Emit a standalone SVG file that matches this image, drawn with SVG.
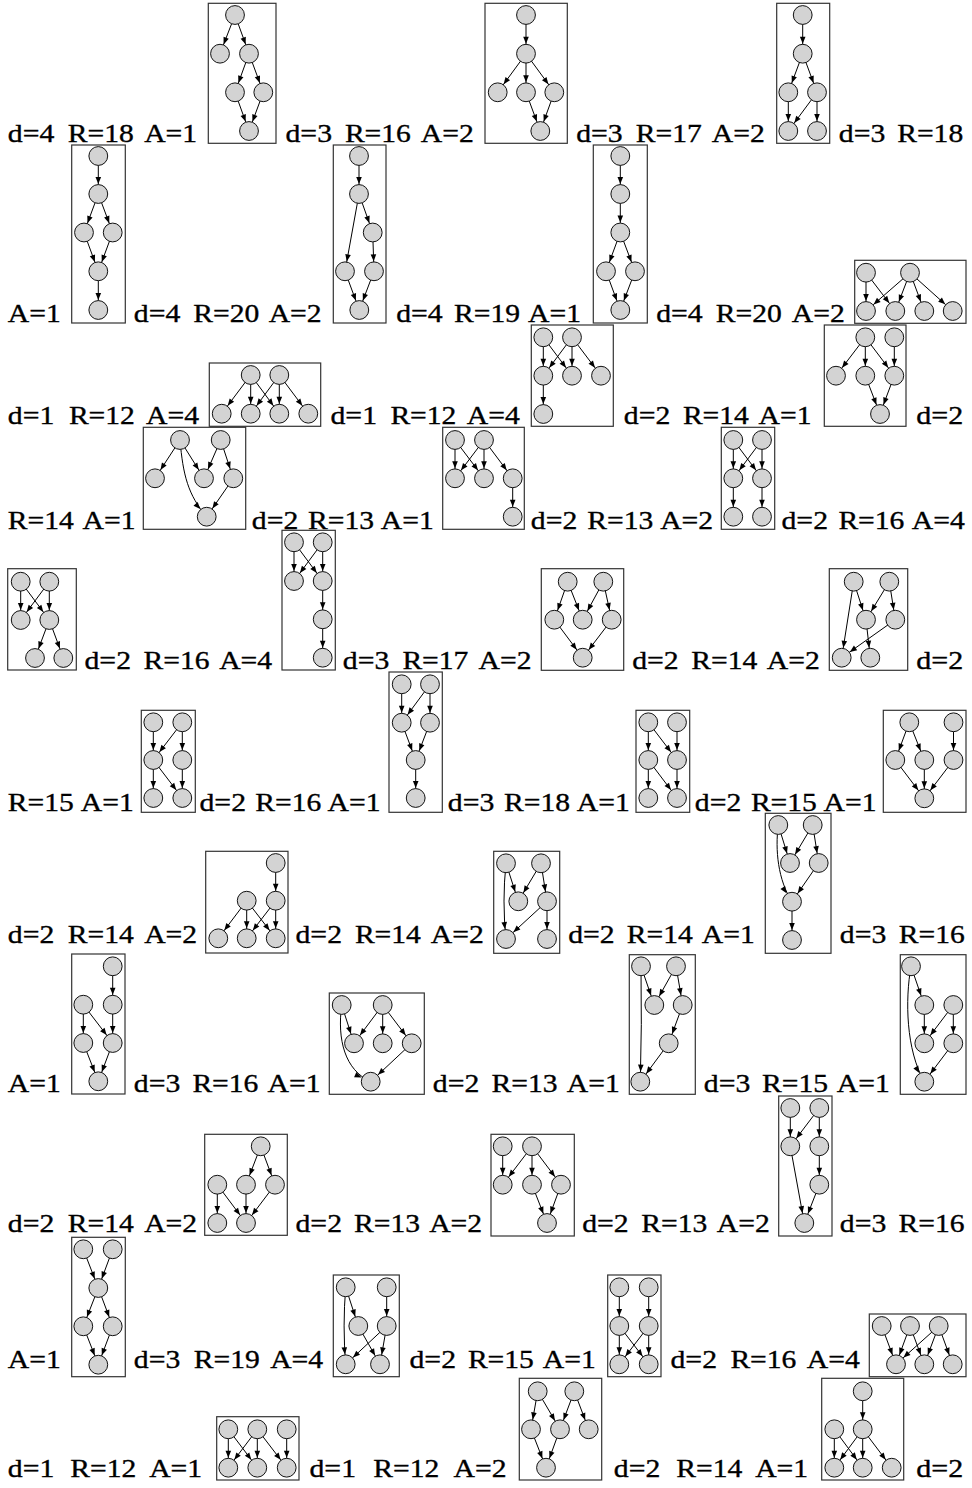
<svg xmlns="http://www.w3.org/2000/svg" width="972" height="1488" viewBox="0 0 972 1488">
<defs>
<marker id="ah" markerUnits="userSpaceOnUse" viewBox="-18 -4 18 8" markerWidth="18" markerHeight="8" refX="0" refY="0" orient="auto"><path d="M-10,0 L-17,-2.8 L-17,2.8 Z" fill="#000"/></marker>
</defs>
<style>
.bx{fill:#fff;stroke:#333;stroke-width:1.2}
circle{fill:#d3d3d3;stroke:#111;stroke-width:1}
.ed line,.ed path{stroke:#000;stroke-width:1;fill:none;marker-end:url(#ah)}
</style>
<rect width="972" height="1488" fill="#fff"/>
<g id="labels" font-family="'Liberation Serif', 'Times New Roman', 'DejaVu Serif', serif" font-size="26" fill="#000" stroke="#000" stroke-width="0.35">
<text x="7.8" y="142" textLength="46.5" lengthAdjust="spacingAndGlyphs">d=4</text><text x="67.8" y="142" textLength="66" lengthAdjust="spacingAndGlyphs">R=18</text><text x="144.2" y="142" textLength="53" lengthAdjust="spacingAndGlyphs">A=1</text>
<text x="285.5" y="142" textLength="46.5" lengthAdjust="spacingAndGlyphs">d=3</text><text x="344.9" y="142" textLength="66" lengthAdjust="spacingAndGlyphs">R=16</text><text x="420.8" y="142" textLength="53" lengthAdjust="spacingAndGlyphs">A=2</text>
<text x="576.2" y="142" textLength="46.5" lengthAdjust="spacingAndGlyphs">d=3</text><text x="635.75" y="142" textLength="66" lengthAdjust="spacingAndGlyphs">R=17</text><text x="711.8" y="142" textLength="53" lengthAdjust="spacingAndGlyphs">A=2</text>
<text x="838.8" y="142" textLength="46.5" lengthAdjust="spacingAndGlyphs">d=3</text><text x="897.2" y="142" textLength="66" lengthAdjust="spacingAndGlyphs">R=18</text>
<text x="7.8" y="321.5" textLength="53" lengthAdjust="spacingAndGlyphs">A=1</text>
<text x="133.8" y="321.5" textLength="46.5" lengthAdjust="spacingAndGlyphs">d=4</text><text x="193.25" y="321.5" textLength="66" lengthAdjust="spacingAndGlyphs">R=20</text><text x="268.7" y="321.5" textLength="53" lengthAdjust="spacingAndGlyphs">A=2</text>
<text x="396.2" y="321.5" textLength="46.5" lengthAdjust="spacingAndGlyphs">d=4</text><text x="454.1" y="321.5" textLength="66" lengthAdjust="spacingAndGlyphs">R=19</text><text x="528" y="321.5" textLength="53" lengthAdjust="spacingAndGlyphs">A=1</text>
<text x="656.2" y="321.5" textLength="46.5" lengthAdjust="spacingAndGlyphs">d=4</text><text x="715.75" y="321.5" textLength="66" lengthAdjust="spacingAndGlyphs">R=20</text><text x="791.8" y="321.5" textLength="53" lengthAdjust="spacingAndGlyphs">A=2</text>
<text x="7.8" y="424" textLength="46.5" lengthAdjust="spacingAndGlyphs">d=1</text><text x="68.9" y="424" textLength="66" lengthAdjust="spacingAndGlyphs">R=12</text><text x="146" y="424" textLength="53" lengthAdjust="spacingAndGlyphs">A=4</text>
<text x="330.5" y="424" textLength="46.5" lengthAdjust="spacingAndGlyphs">d=1</text><text x="390.4" y="424" textLength="66" lengthAdjust="spacingAndGlyphs">R=12</text><text x="466.8" y="424" textLength="53" lengthAdjust="spacingAndGlyphs">A=4</text>
<text x="623.8" y="424" textLength="46.5" lengthAdjust="spacingAndGlyphs">d=2</text><text x="682.9" y="424" textLength="66" lengthAdjust="spacingAndGlyphs">R=14</text><text x="758.5" y="424" textLength="53" lengthAdjust="spacingAndGlyphs">A=1</text>
<text x="916.2" y="424" textLength="47" lengthAdjust="spacingAndGlyphs">d=2</text>
<text x="7.8" y="528.5" textLength="66" lengthAdjust="spacingAndGlyphs">R=14</text><text x="82.5" y="528.5" textLength="53" lengthAdjust="spacingAndGlyphs">A=1</text>
<text x="251.8" y="528.5" textLength="46.5" lengthAdjust="spacingAndGlyphs">d=2</text><text x="308.05" y="528.5" textLength="66" lengthAdjust="spacingAndGlyphs">R=13</text><text x="380.8" y="528.5" textLength="53" lengthAdjust="spacingAndGlyphs">A=1</text>
<text x="530.8" y="528.5" textLength="46.5" lengthAdjust="spacingAndGlyphs">d=2</text><text x="587.25" y="528.5" textLength="66" lengthAdjust="spacingAndGlyphs">R=13</text><text x="660.2" y="528.5" textLength="53" lengthAdjust="spacingAndGlyphs">A=2</text>
<text x="781.5" y="528.5" textLength="46.5" lengthAdjust="spacingAndGlyphs">d=2</text><text x="838.4" y="528.5" textLength="66" lengthAdjust="spacingAndGlyphs">R=16</text><text x="911.8" y="528.5" textLength="53" lengthAdjust="spacingAndGlyphs">A=4</text>
<text x="84.5" y="669.3" textLength="46.5" lengthAdjust="spacingAndGlyphs">d=2</text><text x="143.6" y="669.3" textLength="66" lengthAdjust="spacingAndGlyphs">R=16</text><text x="219.2" y="669.3" textLength="53" lengthAdjust="spacingAndGlyphs">A=4</text>
<text x="342.8" y="669.3" textLength="46.5" lengthAdjust="spacingAndGlyphs">d=3</text><text x="402.4" y="669.3" textLength="66" lengthAdjust="spacingAndGlyphs">R=17</text><text x="478.5" y="669.3" textLength="53" lengthAdjust="spacingAndGlyphs">A=2</text>
<text x="632.2" y="669.3" textLength="46.5" lengthAdjust="spacingAndGlyphs">d=2</text><text x="691.25" y="669.3" textLength="66" lengthAdjust="spacingAndGlyphs">R=14</text><text x="766.8" y="669.3" textLength="53" lengthAdjust="spacingAndGlyphs">A=2</text>
<text x="916.2" y="669.3" textLength="47" lengthAdjust="spacingAndGlyphs">d=2</text>
<text x="7.8" y="810.5" textLength="66" lengthAdjust="spacingAndGlyphs">R=15</text><text x="80.8" y="810.5" textLength="53" lengthAdjust="spacingAndGlyphs">A=1</text>
<text x="199.5" y="810.5" textLength="46.5" lengthAdjust="spacingAndGlyphs">d=2</text><text x="255.25" y="810.5" textLength="66" lengthAdjust="spacingAndGlyphs">R=16</text><text x="327.5" y="810.5" textLength="53" lengthAdjust="spacingAndGlyphs">A=1</text>
<text x="447.8" y="810.5" textLength="46.5" lengthAdjust="spacingAndGlyphs">d=3</text><text x="504.05" y="810.5" textLength="66" lengthAdjust="spacingAndGlyphs">R=18</text><text x="576.8" y="810.5" textLength="53" lengthAdjust="spacingAndGlyphs">A=1</text>
<text x="694.8" y="810.5" textLength="46.5" lengthAdjust="spacingAndGlyphs">d=2</text><text x="750.9" y="810.5" textLength="66" lengthAdjust="spacingAndGlyphs">R=15</text><text x="823.5" y="810.5" textLength="53" lengthAdjust="spacingAndGlyphs">A=1</text>
<text x="7.8" y="943.3" textLength="46.5" lengthAdjust="spacingAndGlyphs">d=2</text><text x="67.8" y="943.3" textLength="66" lengthAdjust="spacingAndGlyphs">R=14</text><text x="144.2" y="943.3" textLength="53" lengthAdjust="spacingAndGlyphs">A=2</text>
<text x="295.5" y="943.3" textLength="46.5" lengthAdjust="spacingAndGlyphs">d=2</text><text x="354.9" y="943.3" textLength="66" lengthAdjust="spacingAndGlyphs">R=14</text><text x="430.8" y="943.3" textLength="53" lengthAdjust="spacingAndGlyphs">A=2</text>
<text x="568.2" y="943.3" textLength="46.5" lengthAdjust="spacingAndGlyphs">d=2</text><text x="626.75" y="943.3" textLength="66" lengthAdjust="spacingAndGlyphs">R=14</text><text x="701.8" y="943.3" textLength="53" lengthAdjust="spacingAndGlyphs">A=1</text>
<text x="839.8" y="943.3" textLength="46.5" lengthAdjust="spacingAndGlyphs">d=3</text><text x="898.8" y="943.3" textLength="66" lengthAdjust="spacingAndGlyphs">R=16</text>
<text x="7.8" y="1092" textLength="53" lengthAdjust="spacingAndGlyphs">A=1</text>
<text x="133.8" y="1092" textLength="46.5" lengthAdjust="spacingAndGlyphs">d=3</text><text x="192.4" y="1092" textLength="66" lengthAdjust="spacingAndGlyphs">R=16</text><text x="267.5" y="1092" textLength="53" lengthAdjust="spacingAndGlyphs">A=1</text>
<text x="432.8" y="1092" textLength="46.5" lengthAdjust="spacingAndGlyphs">d=2</text><text x="491.55" y="1092" textLength="66" lengthAdjust="spacingAndGlyphs">R=13</text><text x="566.8" y="1092" textLength="53" lengthAdjust="spacingAndGlyphs">A=1</text>
<text x="703.8" y="1092" textLength="46.5" lengthAdjust="spacingAndGlyphs">d=3</text><text x="762.05" y="1092" textLength="66" lengthAdjust="spacingAndGlyphs">R=15</text><text x="836.8" y="1092" textLength="53" lengthAdjust="spacingAndGlyphs">A=1</text>
<text x="7.8" y="1232" textLength="46.5" lengthAdjust="spacingAndGlyphs">d=2</text><text x="67.8" y="1232" textLength="66" lengthAdjust="spacingAndGlyphs">R=14</text><text x="144.2" y="1232" textLength="53" lengthAdjust="spacingAndGlyphs">A=2</text>
<text x="295.5" y="1232" textLength="46.5" lengthAdjust="spacingAndGlyphs">d=2</text><text x="354.1" y="1232" textLength="66" lengthAdjust="spacingAndGlyphs">R=13</text><text x="429.2" y="1232" textLength="53" lengthAdjust="spacingAndGlyphs">A=2</text>
<text x="582.2" y="1232" textLength="46.5" lengthAdjust="spacingAndGlyphs">d=2</text><text x="641.25" y="1232" textLength="66" lengthAdjust="spacingAndGlyphs">R=13</text><text x="716.8" y="1232" textLength="53" lengthAdjust="spacingAndGlyphs">A=2</text>
<text x="839.8" y="1232" textLength="46.5" lengthAdjust="spacingAndGlyphs">d=3</text><text x="898.5" y="1232" textLength="66" lengthAdjust="spacingAndGlyphs">R=16</text>
<text x="7.8" y="1367.7" textLength="53" lengthAdjust="spacingAndGlyphs">A=1</text>
<text x="133.8" y="1367.7" textLength="46.5" lengthAdjust="spacingAndGlyphs">d=3</text><text x="193.75" y="1367.7" textLength="66" lengthAdjust="spacingAndGlyphs">R=19</text><text x="270.2" y="1367.7" textLength="53" lengthAdjust="spacingAndGlyphs">A=4</text>
<text x="409.5" y="1367.7" textLength="46.5" lengthAdjust="spacingAndGlyphs">d=2</text><text x="467.9" y="1367.7" textLength="66" lengthAdjust="spacingAndGlyphs">R=15</text><text x="542.8" y="1367.7" textLength="53" lengthAdjust="spacingAndGlyphs">A=1</text>
<text x="670.5" y="1367.7" textLength="46.5" lengthAdjust="spacingAndGlyphs">d=2</text><text x="730.4" y="1367.7" textLength="66" lengthAdjust="spacingAndGlyphs">R=16</text><text x="806.8" y="1367.7" textLength="53" lengthAdjust="spacingAndGlyphs">A=4</text>
<text x="7.8" y="1477.3" textLength="46.5" lengthAdjust="spacingAndGlyphs">d=1</text><text x="70.25" y="1477.3" textLength="66" lengthAdjust="spacingAndGlyphs">R=12</text><text x="149.2" y="1477.3" textLength="53" lengthAdjust="spacingAndGlyphs">A=1</text>
<text x="309.5" y="1477.3" textLength="46.5" lengthAdjust="spacingAndGlyphs">d=1</text><text x="373.25" y="1477.3" textLength="66" lengthAdjust="spacingAndGlyphs">R=12</text><text x="453.5" y="1477.3" textLength="53" lengthAdjust="spacingAndGlyphs">A=2</text>
<text x="613.8" y="1477.3" textLength="46.5" lengthAdjust="spacingAndGlyphs">d=2</text><text x="676.25" y="1477.3" textLength="66" lengthAdjust="spacingAndGlyphs">R=14</text><text x="755.2" y="1477.3" textLength="53" lengthAdjust="spacingAndGlyphs">A=1</text>
<text x="916.2" y="1477.3" textLength="47" lengthAdjust="spacingAndGlyphs">d=2</text>
</g>

<g id="b1"><rect class="bx" x="208.3" y="3.3" width="67.7" height="140"/>
<g class="ed" id="b1-edges"><line x1="235" y1="15" x2="220" y2="53.7"/><line x1="235" y1="15" x2="249" y2="53.7"/><line x1="249" y1="53.7" x2="235" y2="92.3"/><line x1="249" y1="53.7" x2="263.3" y2="92.3"/><line x1="235" y1="92.3" x2="249" y2="131"/><line x1="263.3" y1="92.3" x2="249" y2="131"/></g>
<g id="b1-n1"><circle cx="235" cy="15" r="9.4"/></g><g id="b1-n2"><circle cx="220" cy="53.7" r="9.4"/></g><g id="b1-n3"><circle cx="249" cy="53.7" r="9.4"/></g><g id="b1-n4"><circle cx="235" cy="92.3" r="9.4"/></g><g id="b1-n5"><circle cx="263.3" cy="92.3" r="9.4"/></g><g id="b1-n6"><circle cx="249" cy="131" r="9.4"/></g></g>

<g id="b2"><rect class="bx" x="485" y="3.3" width="82.3" height="140"/>
<g class="ed" id="b2-edges"><line x1="526" y1="15" x2="526" y2="53.7"/><line x1="526" y1="53.7" x2="497.7" y2="92.3"/><line x1="526" y1="53.7" x2="526" y2="92.3"/><line x1="526" y1="53.7" x2="554.3" y2="92.3"/><line x1="526" y1="92.3" x2="540.3" y2="131"/><line x1="554.3" y1="92.3" x2="540.3" y2="131"/></g>
<g id="b2-n1"><circle cx="526" cy="15" r="9.4"/></g><g id="b2-n2"><circle cx="526" cy="53.7" r="9.4"/></g><g id="b2-n3"><circle cx="497.7" cy="92.3" r="9.4"/></g><g id="b2-n4"><circle cx="526" cy="92.3" r="9.4"/></g><g id="b2-n5"><circle cx="554.3" cy="92.3" r="9.4"/></g><g id="b2-n6"><circle cx="540.3" cy="131" r="9.4"/></g></g>

<g id="b3"><rect class="bx" x="776.7" y="3.3" width="53" height="140"/>
<g class="ed" id="b3-edges"><line x1="802.7" y1="15" x2="802.7" y2="53.7"/><line x1="802.7" y1="53.7" x2="788.3" y2="92.3"/><line x1="802.7" y1="53.7" x2="817" y2="92.3"/><line x1="788.3" y1="92.3" x2="788.3" y2="131"/><line x1="817" y1="92.3" x2="788.3" y2="131"/><line x1="817" y1="92.3" x2="817" y2="131"/></g>
<g id="b3-n1"><circle cx="802.7" cy="15" r="9.4"/></g><g id="b3-n2"><circle cx="802.7" cy="53.7" r="9.4"/></g><g id="b3-n3"><circle cx="788.3" cy="92.3" r="9.4"/></g><g id="b3-n4"><circle cx="817" cy="92.3" r="9.4"/></g><g id="b3-n5"><circle cx="788.3" cy="131" r="9.4"/></g><g id="b3-n6"><circle cx="817" cy="131" r="9.4"/></g></g>

<g id="b4"><rect class="bx" x="71.7" y="145" width="53.6" height="178"/>
<g class="ed" id="b4-edges"><line x1="98.3" y1="156" x2="98.3" y2="194"/><line x1="98.3" y1="194" x2="84" y2="232.5"/><line x1="98.3" y1="194" x2="112.7" y2="232.5"/><line x1="84" y1="232.5" x2="98.3" y2="271.3"/><line x1="112.7" y1="232.5" x2="98.3" y2="271.3"/><line x1="98.3" y1="271.3" x2="98.3" y2="310"/></g>
<g id="b4-n1"><circle cx="98.3" cy="156" r="9.4"/></g><g id="b4-n2"><circle cx="98.3" cy="194" r="9.4"/></g><g id="b4-n3"><circle cx="84" cy="232.5" r="9.4"/></g><g id="b4-n4"><circle cx="112.7" cy="232.5" r="9.4"/></g><g id="b4-n5"><circle cx="98.3" cy="271.3" r="9.4"/></g><g id="b4-n6"><circle cx="98.3" cy="310" r="9.4"/></g></g>

<g id="b5"><rect class="bx" x="333.3" y="145" width="52.7" height="178"/>
<g class="ed" id="b5-edges"><line x1="359" y1="156" x2="359" y2="194"/><line x1="359" y1="194" x2="372.7" y2="232.5"/><line x1="359" y1="194" x2="345" y2="271.3"/><line x1="372.7" y1="232.5" x2="374" y2="271.3"/><line x1="345" y1="271.3" x2="359.3" y2="310"/><line x1="374" y1="271.3" x2="359.3" y2="310"/></g>
<g id="b5-n1"><circle cx="359" cy="156" r="9.4"/></g><g id="b5-n2"><circle cx="359" cy="194" r="9.4"/></g><g id="b5-n3"><circle cx="372.7" cy="232.5" r="9.4"/></g><g id="b5-n4"><circle cx="345" cy="271.3" r="9.4"/></g><g id="b5-n5"><circle cx="374" cy="271.3" r="9.4"/></g><g id="b5-n6"><circle cx="359.3" cy="310" r="9.4"/></g></g>

<g id="b6"><rect class="bx" x="593.3" y="145" width="54" height="178"/>
<g class="ed" id="b6-edges"><line x1="620.3" y1="156" x2="620.3" y2="194"/><line x1="620.3" y1="194" x2="620.3" y2="232.5"/><line x1="620.3" y1="232.5" x2="606" y2="271.3"/><line x1="620.3" y1="232.5" x2="635" y2="271.3"/><line x1="606" y1="271.3" x2="620.3" y2="310"/><line x1="635" y1="271.3" x2="620.3" y2="310"/></g>
<g id="b6-n1"><circle cx="620.3" cy="156" r="9.4"/></g><g id="b6-n2"><circle cx="620.3" cy="194" r="9.4"/></g><g id="b6-n3"><circle cx="620.3" cy="232.5" r="9.4"/></g><g id="b6-n4"><circle cx="606" cy="271.3" r="9.4"/></g><g id="b6-n5"><circle cx="635" cy="271.3" r="9.4"/></g><g id="b6-n6"><circle cx="620.3" cy="310" r="9.4"/></g></g>

<g id="b7"><rect class="bx" x="854.7" y="260.3" width="111.3" height="63"/>
<g class="ed" id="b7-edges"><line x1="866" y1="272.7" x2="866" y2="311"/><line x1="866" y1="272.7" x2="895.3" y2="311"/><line x1="910" y1="272.7" x2="866" y2="311"/><line x1="910" y1="272.7" x2="895.3" y2="311"/><line x1="910" y1="272.7" x2="924.3" y2="311"/><line x1="910" y1="272.7" x2="952.7" y2="311"/></g>
<g id="b7-n1"><circle cx="866" cy="272.7" r="9.4"/></g><g id="b7-n2"><circle cx="910" cy="272.7" r="9.4"/></g><g id="b7-n3"><circle cx="866" cy="311" r="9.4"/></g><g id="b7-n4"><circle cx="895.3" cy="311" r="9.4"/></g><g id="b7-n5"><circle cx="924.3" cy="311" r="9.4"/></g><g id="b7-n6"><circle cx="952.7" cy="311" r="9.4"/></g></g>

<g id="b8"><rect class="bx" x="209.3" y="363" width="111.4" height="63.3"/>
<g class="ed" id="b8-edges"><line x1="250.7" y1="375" x2="221.7" y2="413.7"/><line x1="250.7" y1="375" x2="250.7" y2="413.7"/><line x1="250.7" y1="375" x2="279.3" y2="413.7"/><line x1="279.3" y1="375" x2="250.7" y2="413.7"/><line x1="279.3" y1="375" x2="279.3" y2="413.7"/><line x1="279.3" y1="375" x2="308.3" y2="413.7"/></g>
<g id="b8-n1"><circle cx="250.7" cy="375" r="9.4"/></g><g id="b8-n2"><circle cx="279.3" cy="375" r="9.4"/></g><g id="b8-n3"><circle cx="221.7" cy="413.7" r="9.4"/></g><g id="b8-n4"><circle cx="250.7" cy="413.7" r="9.4"/></g><g id="b8-n5"><circle cx="279.3" cy="413.7" r="9.4"/></g><g id="b8-n6"><circle cx="308.3" cy="413.7" r="9.4"/></g></g>

<g id="b9"><rect class="bx" x="531.3" y="325" width="82" height="101.3"/>
<g class="ed" id="b9-edges"><line x1="543.3" y1="337.3" x2="543.3" y2="375.7"/><line x1="543.3" y1="337.3" x2="572" y2="375.7"/><line x1="572" y1="337.3" x2="543.3" y2="375.7"/><line x1="572" y1="337.3" x2="572" y2="375.7"/><line x1="572" y1="337.3" x2="601" y2="375.7"/><line x1="543.3" y1="375.7" x2="543.3" y2="414"/></g>
<g id="b9-n1"><circle cx="543.3" cy="337.3" r="9.4"/></g><g id="b9-n2"><circle cx="572" cy="337.3" r="9.4"/></g><g id="b9-n3"><circle cx="543.3" cy="375.7" r="9.4"/></g><g id="b9-n4"><circle cx="572" cy="375.7" r="9.4"/></g><g id="b9-n5"><circle cx="601" cy="375.7" r="9.4"/></g><g id="b9-n6"><circle cx="543.3" cy="414" r="9.4"/></g></g>

<g id="b10"><rect class="bx" x="824.3" y="325" width="81.7" height="101.3"/>
<g class="ed" id="b10-edges"><line x1="865.3" y1="337.3" x2="836" y2="375.7"/><line x1="865.3" y1="337.3" x2="865.3" y2="375.7"/><line x1="865.3" y1="337.3" x2="894.3" y2="375.7"/><line x1="894.3" y1="337.3" x2="894.3" y2="375.7"/><line x1="865.3" y1="375.7" x2="880" y2="414"/><line x1="894.3" y1="375.7" x2="880" y2="414"/></g>
<g id="b10-n1"><circle cx="865.3" cy="337.3" r="9.4"/></g><g id="b10-n2"><circle cx="894.3" cy="337.3" r="9.4"/></g><g id="b10-n3"><circle cx="836" cy="375.7" r="9.4"/></g><g id="b10-n4"><circle cx="865.3" cy="375.7" r="9.4"/></g><g id="b10-n5"><circle cx="894.3" cy="375.7" r="9.4"/></g><g id="b10-n6"><circle cx="880" cy="414" r="9.4"/></g></g>

<g id="b11"><rect class="bx" x="143.3" y="427.3" width="102.4" height="102"/>
<g class="ed" id="b11-edges"><line x1="180" y1="440" x2="155" y2="478.3"/><line x1="180" y1="440" x2="204" y2="478.3"/><line x1="220.7" y1="440" x2="204" y2="478.3"/><line x1="220.7" y1="440" x2="233.3" y2="478.3"/><line x1="233.3" y1="478.3" x2="206.7" y2="516.7"/><path d="M180,440 C183,475 188,495 206.7,516.7"/></g>
<g id="b11-n1"><circle cx="180" cy="440" r="9.4"/></g><g id="b11-n2"><circle cx="220.7" cy="440" r="9.4"/></g><g id="b11-n3"><circle cx="155" cy="478.3" r="9.4"/></g><g id="b11-n4"><circle cx="204" cy="478.3" r="9.4"/></g><g id="b11-n5"><circle cx="233.3" cy="478.3" r="9.4"/></g><g id="b11-n6"><circle cx="206.7" cy="516.7" r="9.4"/></g></g>

<g id="b12"><rect class="bx" x="442.7" y="427.3" width="81.6" height="102"/>
<g class="ed" id="b12-edges"><line x1="455" y1="440" x2="455" y2="478.3"/><line x1="455" y1="440" x2="484" y2="478.3"/><line x1="484" y1="440" x2="455" y2="478.3"/><line x1="484" y1="440" x2="484" y2="478.3"/><line x1="484" y1="440" x2="512.7" y2="478.3"/><line x1="512.7" y1="478.3" x2="512.7" y2="516.7"/></g>
<g id="b12-n1"><circle cx="455" cy="440" r="9.4"/></g><g id="b12-n2"><circle cx="484" cy="440" r="9.4"/></g><g id="b12-n3"><circle cx="455" cy="478.3" r="9.4"/></g><g id="b12-n4"><circle cx="484" cy="478.3" r="9.4"/></g><g id="b12-n5"><circle cx="512.7" cy="478.3" r="9.4"/></g><g id="b12-n6"><circle cx="512.7" cy="516.7" r="9.4"/></g></g>

<g id="b13"><rect class="bx" x="721.3" y="427.3" width="53.4" height="102"/>
<g class="ed" id="b13-edges"><line x1="733.3" y1="440" x2="733.3" y2="478.3"/><line x1="733.3" y1="440" x2="762" y2="478.3"/><line x1="762" y1="440" x2="733.3" y2="478.3"/><line x1="762" y1="440" x2="762" y2="478.3"/><line x1="733.3" y1="478.3" x2="733.3" y2="516.7"/><line x1="762" y1="478.3" x2="762" y2="516.7"/></g>
<g id="b13-n1"><circle cx="733.3" cy="440" r="9.4"/></g><g id="b13-n2"><circle cx="762" cy="440" r="9.4"/></g><g id="b13-n3"><circle cx="733.3" cy="478.3" r="9.4"/></g><g id="b13-n4"><circle cx="762" cy="478.3" r="9.4"/></g><g id="b13-n5"><circle cx="733.3" cy="516.7" r="9.4"/></g><g id="b13-n6"><circle cx="762" cy="516.7" r="9.4"/></g></g>

<g id="b14"><rect class="bx" x="7.7" y="568.7" width="68.6" height="101.3"/>
<g class="ed" id="b14-edges"><line x1="20.7" y1="581.7" x2="20.7" y2="620"/><line x1="20.7" y1="581.7" x2="49.3" y2="620"/><line x1="49.3" y1="581.7" x2="20.7" y2="620"/><line x1="49.3" y1="581.7" x2="49.3" y2="620"/><line x1="49.3" y1="620" x2="35" y2="658"/><line x1="49.3" y1="620" x2="63.3" y2="658"/></g>
<g id="b14-n1"><circle cx="20.7" cy="581.7" r="9.4"/></g><g id="b14-n2"><circle cx="49.3" cy="581.7" r="9.4"/></g><g id="b14-n3"><circle cx="20.7" cy="620" r="9.4"/></g><g id="b14-n4"><circle cx="49.3" cy="620" r="9.4"/></g><g id="b14-n5"><circle cx="35" cy="658" r="9.4"/></g><g id="b14-n6"><circle cx="63.3" cy="658" r="9.4"/></g></g>

<g id="b15"><rect class="bx" x="282" y="530.3" width="53.3" height="139.7"/>
<g class="ed" id="b15-edges"><line x1="294" y1="542.3" x2="294" y2="581"/><line x1="294" y1="542.3" x2="322.7" y2="581"/><line x1="322.7" y1="542.3" x2="294" y2="581"/><line x1="322.7" y1="542.3" x2="322.7" y2="581"/><line x1="322.7" y1="581" x2="322.7" y2="619.3"/><line x1="322.7" y1="619.3" x2="322.7" y2="657.7"/></g>
<g id="b15-n1"><circle cx="294" cy="542.3" r="9.4"/></g><g id="b15-n2"><circle cx="322.7" cy="542.3" r="9.4"/></g><g id="b15-n3"><circle cx="294" cy="581" r="9.4"/></g><g id="b15-n4"><circle cx="322.7" cy="581" r="9.4"/></g><g id="b15-n5"><circle cx="322.7" cy="619.3" r="9.4"/></g><g id="b15-n6"><circle cx="322.7" cy="657.7" r="9.4"/></g></g>

<g id="b16"><rect class="bx" x="541.3" y="568.7" width="82.4" height="101.6"/>
<g class="ed" id="b16-edges"><line x1="567.7" y1="581.7" x2="554.3" y2="619.7"/><line x1="567.7" y1="581.7" x2="582.7" y2="619.7"/><line x1="603.3" y1="581.7" x2="582.7" y2="619.7"/><line x1="603.3" y1="581.7" x2="611.7" y2="619.7"/><line x1="554.3" y1="619.7" x2="582.7" y2="657.7"/><line x1="611.7" y1="619.7" x2="582.7" y2="657.7"/></g>
<g id="b16-n1"><circle cx="567.7" cy="581.7" r="9.4"/></g><g id="b16-n2"><circle cx="603.3" cy="581.7" r="9.4"/></g><g id="b16-n3"><circle cx="554.3" cy="619.7" r="9.4"/></g><g id="b16-n4"><circle cx="582.7" cy="619.7" r="9.4"/></g><g id="b16-n5"><circle cx="611.7" cy="619.7" r="9.4"/></g><g id="b16-n6"><circle cx="582.7" cy="657.7" r="9.4"/></g></g>

<g id="b17"><rect class="bx" x="829.3" y="568.7" width="78.4" height="101.6"/>
<g class="ed" id="b17-edges"><line x1="853.7" y1="581.7" x2="841.7" y2="657.7"/><line x1="853.7" y1="581.7" x2="866" y2="619.7"/><line x1="889.3" y1="581.7" x2="866" y2="619.7"/><line x1="889.3" y1="581.7" x2="895.3" y2="619.7"/><line x1="866" y1="619.7" x2="870.3" y2="657.7"/><line x1="895.3" y1="619.7" x2="841.7" y2="657.7"/></g>
<g id="b17-n1"><circle cx="853.7" cy="581.7" r="9.4"/></g><g id="b17-n2"><circle cx="889.3" cy="581.7" r="9.4"/></g><g id="b17-n3"><circle cx="866" cy="619.7" r="9.4"/></g><g id="b17-n4"><circle cx="895.3" cy="619.7" r="9.4"/></g><g id="b17-n5"><circle cx="841.7" cy="657.7" r="9.4"/></g><g id="b17-n6"><circle cx="870.3" cy="657.7" r="9.4"/></g></g>

<g id="b18"><rect class="bx" x="141.3" y="710.3" width="54" height="102"/>
<g class="ed" id="b18-edges"><line x1="153.3" y1="722.3" x2="153.3" y2="760"/><line x1="182.3" y1="722.3" x2="153.3" y2="760"/><line x1="182.3" y1="722.3" x2="182.3" y2="760"/><line x1="153.3" y1="760" x2="153.3" y2="798"/><line x1="153.3" y1="760" x2="182.3" y2="798"/><line x1="182.3" y1="760" x2="182.3" y2="798"/></g>
<g id="b18-n1"><circle cx="153.3" cy="722.3" r="9.4"/></g><g id="b18-n2"><circle cx="182.3" cy="722.3" r="9.4"/></g><g id="b18-n3"><circle cx="153.3" cy="760" r="9.4"/></g><g id="b18-n4"><circle cx="182.3" cy="760" r="9.4"/></g><g id="b18-n5"><circle cx="153.3" cy="798" r="9.4"/></g><g id="b18-n6"><circle cx="182.3" cy="798" r="9.4"/></g></g>

<g id="b19"><rect class="bx" x="389" y="672" width="53.3" height="140.3"/>
<g class="ed" id="b19-edges"><line x1="401.7" y1="684.3" x2="401.7" y2="722.7"/><line x1="430" y1="684.3" x2="401.7" y2="722.7"/><line x1="430" y1="684.3" x2="430" y2="722.7"/><line x1="401.7" y1="722.7" x2="415.7" y2="760"/><line x1="430" y1="722.7" x2="415.7" y2="760"/><line x1="415.7" y1="760" x2="415.7" y2="798"/></g>
<g id="b19-n1"><circle cx="401.7" cy="684.3" r="9.4"/></g><g id="b19-n2"><circle cx="430" cy="684.3" r="9.4"/></g><g id="b19-n3"><circle cx="401.7" cy="722.7" r="9.4"/></g><g id="b19-n4"><circle cx="430" cy="722.7" r="9.4"/></g><g id="b19-n5"><circle cx="415.7" cy="760" r="9.4"/></g><g id="b19-n6"><circle cx="415.7" cy="798" r="9.4"/></g></g>

<g id="b20"><rect class="bx" x="636" y="710.3" width="53.7" height="102"/>
<g class="ed" id="b20-edges"><line x1="648.3" y1="722.3" x2="648.3" y2="760"/><line x1="648.3" y1="722.3" x2="677" y2="760"/><line x1="677" y1="722.3" x2="677" y2="760"/><line x1="648.3" y1="760" x2="648.3" y2="798"/><line x1="648.3" y1="760" x2="677" y2="798"/><line x1="677" y1="760" x2="677" y2="798"/></g>
<g id="b20-n1"><circle cx="648.3" cy="722.3" r="9.4"/></g><g id="b20-n2"><circle cx="677" cy="722.3" r="9.4"/></g><g id="b20-n3"><circle cx="648.3" cy="760" r="9.4"/></g><g id="b20-n4"><circle cx="677" cy="760" r="9.4"/></g><g id="b20-n5"><circle cx="648.3" cy="798" r="9.4"/></g><g id="b20-n6"><circle cx="677" cy="798" r="9.4"/></g></g>

<g id="b21"><rect class="bx" x="883.3" y="710.3" width="82.7" height="102"/>
<g class="ed" id="b21-edges"><line x1="909.3" y1="722.3" x2="895.3" y2="760"/><line x1="909.3" y1="722.3" x2="924.3" y2="760"/><line x1="953.5" y1="722.3" x2="953.5" y2="760"/><line x1="895.3" y1="760" x2="924.3" y2="798.3"/><line x1="924.3" y1="760" x2="924.3" y2="798.3"/><line x1="953.5" y1="760" x2="924.3" y2="798.3"/></g>
<g id="b21-n1"><circle cx="909.3" cy="722.3" r="9.4"/></g><g id="b21-n2"><circle cx="953.5" cy="722.3" r="9.4"/></g><g id="b21-n3"><circle cx="895.3" cy="760" r="9.4"/></g><g id="b21-n4"><circle cx="924.3" cy="760" r="9.4"/></g><g id="b21-n5"><circle cx="953.5" cy="760" r="9.4"/></g><g id="b21-n6"><circle cx="924.3" cy="798.3" r="9.4"/></g></g>

<g id="b22"><rect class="bx" x="205.7" y="851.3" width="82.3" height="101.7"/>
<g class="ed" id="b22-edges"><line x1="275.7" y1="863" x2="275.7" y2="900.7"/><line x1="246.7" y1="900.7" x2="218.3" y2="938.3"/><line x1="246.7" y1="900.7" x2="246.7" y2="938.3"/><line x1="246.7" y1="900.7" x2="275.7" y2="938.3"/><line x1="275.7" y1="900.7" x2="246.7" y2="938.3"/><line x1="275.7" y1="900.7" x2="275.7" y2="938.3"/></g>
<g id="b22-n1"><circle cx="275.7" cy="863" r="9.4"/></g><g id="b22-n2"><circle cx="246.7" cy="900.7" r="9.4"/></g><g id="b22-n3"><circle cx="275.7" cy="900.7" r="9.4"/></g><g id="b22-n4"><circle cx="218.3" cy="938.3" r="9.4"/></g><g id="b22-n5"><circle cx="246.7" cy="938.3" r="9.4"/></g><g id="b22-n6"><circle cx="275.7" cy="938.3" r="9.4"/></g></g>

<g id="b23"><rect class="bx" x="493.7" y="851.3" width="66" height="102"/>
<g class="ed" id="b23-edges"><path d="M506,863.3 Q502,901 506,939"/><line x1="506" y1="863.3" x2="518.3" y2="901.3"/><line x1="541" y1="863.3" x2="518.3" y2="901.3"/><line x1="541" y1="863.3" x2="547" y2="901.3"/><line x1="547" y1="901.3" x2="506" y2="939"/><line x1="547" y1="901.3" x2="547" y2="939"/></g>
<g id="b23-n1"><circle cx="506" cy="863.3" r="9.4"/></g><g id="b23-n2"><circle cx="541" cy="863.3" r="9.4"/></g><g id="b23-n3"><circle cx="518.3" cy="901.3" r="9.4"/></g><g id="b23-n4"><circle cx="547" cy="901.3" r="9.4"/></g><g id="b23-n5"><circle cx="506" cy="939" r="9.4"/></g><g id="b23-n6"><circle cx="547" cy="939" r="9.4"/></g></g>

<g id="b24"><rect class="bx" x="765.3" y="813.3" width="65.7" height="140"/>
<g class="ed" id="b24-edges"><line x1="778.3" y1="825" x2="790" y2="863"/><path d="M778.3,825 C775,850 778,880 792,901.7"/><line x1="812.7" y1="825" x2="790" y2="863"/><line x1="812.7" y1="825" x2="818.7" y2="863"/><line x1="818.7" y1="863" x2="792" y2="901.7"/><line x1="792" y1="901.7" x2="792" y2="940"/></g>
<g id="b24-n1"><circle cx="778.3" cy="825" r="9.4"/></g><g id="b24-n2"><circle cx="812.7" cy="825" r="9.4"/></g><g id="b24-n3"><circle cx="790" cy="863" r="9.4"/></g><g id="b24-n4"><circle cx="818.7" cy="863" r="9.4"/></g><g id="b24-n5"><circle cx="792" cy="901.7" r="9.4"/></g><g id="b24-n6"><circle cx="792" cy="940" r="9.4"/></g></g>

<g id="b25"><rect class="bx" x="71.7" y="954" width="53.3" height="140"/>
<g class="ed" id="b25-edges"><line x1="112.7" y1="966.3" x2="112.7" y2="1004.7"/><line x1="83.3" y1="1004.7" x2="83.3" y2="1043"/><line x1="83.3" y1="1004.7" x2="112.7" y2="1043"/><line x1="112.7" y1="1004.7" x2="112.7" y2="1043"/><line x1="83.3" y1="1043" x2="98.3" y2="1081.3"/><line x1="112.7" y1="1043" x2="98.3" y2="1081.3"/></g>
<g id="b25-n1"><circle cx="112.7" cy="966.3" r="9.4"/></g><g id="b25-n2"><circle cx="83.3" cy="1004.7" r="9.4"/></g><g id="b25-n3"><circle cx="112.7" cy="1004.7" r="9.4"/></g><g id="b25-n4"><circle cx="83.3" cy="1043" r="9.4"/></g><g id="b25-n5"><circle cx="112.7" cy="1043" r="9.4"/></g><g id="b25-n6"><circle cx="98.3" cy="1081.3" r="9.4"/></g></g>

<g id="b26"><rect class="bx" x="329.3" y="993" width="95" height="101.3"/>
<g class="ed" id="b26-edges"><line x1="341.7" y1="1005" x2="354" y2="1043.3"/><path d="M341.7,1005 C337,1040 345,1070 370.7,1081.7"/><line x1="382.7" y1="1005" x2="354" y2="1043.3"/><line x1="382.7" y1="1005" x2="382.7" y2="1043.3"/><line x1="382.7" y1="1005" x2="411.7" y2="1043.3"/><line x1="411.7" y1="1043.3" x2="370.7" y2="1081.7"/></g>
<g id="b26-n1"><circle cx="341.7" cy="1005" r="9.4"/></g><g id="b26-n2"><circle cx="382.7" cy="1005" r="9.4"/></g><g id="b26-n3"><circle cx="354" cy="1043.3" r="9.4"/></g><g id="b26-n4"><circle cx="382.7" cy="1043.3" r="9.4"/></g><g id="b26-n5"><circle cx="411.7" cy="1043.3" r="9.4"/></g><g id="b26-n6"><circle cx="370.7" cy="1081.7" r="9.4"/></g></g>

<g id="b27"><rect class="bx" x="629.3" y="954.7" width="66" height="139.6"/>
<g class="ed" id="b27-edges"><path d="M641,966.3 Q642,1025 640.3,1081.7"/><line x1="641" y1="966.3" x2="654.3" y2="1005"/><line x1="676" y1="966.3" x2="654.3" y2="1005"/><line x1="676" y1="966.3" x2="682.7" y2="1005"/><line x1="682.7" y1="1005" x2="668.7" y2="1043.3"/><line x1="668.7" y1="1043.3" x2="640.3" y2="1081.7"/></g>
<g id="b27-n1"><circle cx="641" cy="966.3" r="9.4"/></g><g id="b27-n2"><circle cx="676" cy="966.3" r="9.4"/></g><g id="b27-n3"><circle cx="654.3" cy="1005" r="9.4"/></g><g id="b27-n4"><circle cx="682.7" cy="1005" r="9.4"/></g><g id="b27-n5"><circle cx="668.7" cy="1043.3" r="9.4"/></g><g id="b27-n6"><circle cx="640.3" cy="1081.7" r="9.4"/></g></g>

<g id="b28"><rect class="bx" x="900.3" y="954.7" width="65.7" height="139.6"/>
<g class="ed" id="b28-edges"><line x1="911" y1="966.3" x2="924.3" y2="1005"/><path d="M911,966.3 C905,1000 906,1050 924.3,1081.7"/><line x1="924.3" y1="1005" x2="924.3" y2="1043.3"/><line x1="953.3" y1="1005" x2="924.3" y2="1043.3"/><line x1="953.3" y1="1005" x2="953.3" y2="1043.3"/><line x1="953.3" y1="1043.3" x2="924.3" y2="1081.7"/></g>
<g id="b28-n1"><circle cx="911" cy="966.3" r="9.4"/></g><g id="b28-n2"><circle cx="924.3" cy="1005" r="9.4"/></g><g id="b28-n3"><circle cx="953.3" cy="1005" r="9.4"/></g><g id="b28-n4"><circle cx="924.3" cy="1043.3" r="9.4"/></g><g id="b28-n5"><circle cx="953.3" cy="1043.3" r="9.4"/></g><g id="b28-n6"><circle cx="924.3" cy="1081.7" r="9.4"/></g></g>

<g id="b29"><rect class="bx" x="204.7" y="1134.3" width="82.6" height="101"/>
<g class="ed" id="b29-edges"><line x1="260.7" y1="1146.3" x2="246" y2="1184.7"/><line x1="260.7" y1="1146.3" x2="275" y2="1184.7"/><line x1="217.3" y1="1184.7" x2="217.3" y2="1223"/><line x1="217.3" y1="1184.7" x2="246" y2="1223"/><line x1="246" y1="1184.7" x2="246" y2="1223"/><line x1="275" y1="1184.7" x2="246" y2="1223"/></g>
<g id="b29-n1"><circle cx="260.7" cy="1146.3" r="9.4"/></g><g id="b29-n2"><circle cx="217.3" cy="1184.7" r="9.4"/></g><g id="b29-n3"><circle cx="246" cy="1184.7" r="9.4"/></g><g id="b29-n4"><circle cx="275" cy="1184.7" r="9.4"/></g><g id="b29-n5"><circle cx="217.3" cy="1223" r="9.4"/></g><g id="b29-n6"><circle cx="246" cy="1223" r="9.4"/></g></g>

<g id="b30"><rect class="bx" x="491" y="1134.3" width="83.3" height="101.7"/>
<g class="ed" id="b30-edges"><line x1="502.7" y1="1146.3" x2="502.7" y2="1184.7"/><line x1="532" y1="1146.3" x2="502.7" y2="1184.7"/><line x1="532" y1="1146.3" x2="532" y2="1184.7"/><line x1="532" y1="1146.3" x2="561" y2="1184.7"/><line x1="532" y1="1184.7" x2="547" y2="1223"/><line x1="561" y1="1184.7" x2="547" y2="1223"/></g>
<g id="b30-n1"><circle cx="502.7" cy="1146.3" r="9.4"/></g><g id="b30-n2"><circle cx="532" cy="1146.3" r="9.4"/></g><g id="b30-n3"><circle cx="502.7" cy="1184.7" r="9.4"/></g><g id="b30-n4"><circle cx="532" cy="1184.7" r="9.4"/></g><g id="b30-n5"><circle cx="561" cy="1184.7" r="9.4"/></g><g id="b30-n6"><circle cx="547" cy="1223" r="9.4"/></g></g>

<g id="b31"><rect class="bx" x="778.7" y="1096" width="53.3" height="140"/>
<g class="ed" id="b31-edges"><line x1="790.3" y1="1108" x2="790.3" y2="1146.3"/><line x1="819.3" y1="1108" x2="790.3" y2="1146.3"/><line x1="819.3" y1="1108" x2="819.3" y2="1146.3"/><line x1="790.3" y1="1146.3" x2="804.3" y2="1223"/><line x1="819.3" y1="1146.3" x2="819.3" y2="1184.7"/><line x1="819.3" y1="1184.7" x2="804.3" y2="1223"/></g>
<g id="b31-n1"><circle cx="790.3" cy="1108" r="9.4"/></g><g id="b31-n2"><circle cx="819.3" cy="1108" r="9.4"/></g><g id="b31-n3"><circle cx="790.3" cy="1146.3" r="9.4"/></g><g id="b31-n4"><circle cx="819.3" cy="1146.3" r="9.4"/></g><g id="b31-n5"><circle cx="819.3" cy="1184.7" r="9.4"/></g><g id="b31-n6"><circle cx="804.3" cy="1223" r="9.4"/></g></g>

<g id="b32"><rect class="bx" x="71.7" y="1237.3" width="53.6" height="139.4"/>
<g class="ed" id="b32-edges"><line x1="83.3" y1="1249.3" x2="98.3" y2="1288"/><line x1="112.7" y1="1249.3" x2="98.3" y2="1288"/><line x1="98.3" y1="1288" x2="83.3" y2="1326.3"/><line x1="98.3" y1="1288" x2="112.7" y2="1326.3"/><line x1="83.3" y1="1326.3" x2="98.3" y2="1364.7"/><line x1="112.7" y1="1326.3" x2="98.3" y2="1364.7"/></g>
<g id="b32-n1"><circle cx="83.3" cy="1249.3" r="9.4"/></g><g id="b32-n2"><circle cx="112.7" cy="1249.3" r="9.4"/></g><g id="b32-n3"><circle cx="98.3" cy="1288" r="9.4"/></g><g id="b32-n4"><circle cx="83.3" cy="1326.3" r="9.4"/></g><g id="b32-n5"><circle cx="112.7" cy="1326.3" r="9.4"/></g><g id="b32-n6"><circle cx="98.3" cy="1364.7" r="9.4"/></g></g>

<g id="b33"><rect class="bx" x="333.3" y="1275" width="66" height="101.7"/>
<g class="ed" id="b33-edges"><path d="M345.7,1287.3 Q342.5,1326 345.7,1364.3"/><line x1="345.7" y1="1287.3" x2="358.3" y2="1326"/><line x1="386.7" y1="1287.3" x2="386.7" y2="1326"/><line x1="358.3" y1="1326" x2="380" y2="1364.3"/><line x1="386.7" y1="1326" x2="345.7" y2="1364.3"/><line x1="386.7" y1="1326" x2="380" y2="1364.3"/></g>
<g id="b33-n1"><circle cx="345.7" cy="1287.3" r="9.4"/></g><g id="b33-n2"><circle cx="386.7" cy="1287.3" r="9.4"/></g><g id="b33-n3"><circle cx="358.3" cy="1326" r="9.4"/></g><g id="b33-n4"><circle cx="386.7" cy="1326" r="9.4"/></g><g id="b33-n5"><circle cx="345.7" cy="1364.3" r="9.4"/></g><g id="b33-n6"><circle cx="380" cy="1364.3" r="9.4"/></g></g>

<g id="b34"><rect class="bx" x="607.7" y="1275" width="53.3" height="101.7"/>
<g class="ed" id="b34-edges"><line x1="619.3" y1="1287.3" x2="619.3" y2="1326"/><line x1="648.7" y1="1287.3" x2="648.7" y2="1326"/><line x1="619.3" y1="1326" x2="619.3" y2="1364.3"/><line x1="619.3" y1="1326" x2="648.7" y2="1364.3"/><line x1="648.7" y1="1326" x2="619.3" y2="1364.3"/><line x1="648.7" y1="1326" x2="648.7" y2="1364.3"/></g>
<g id="b34-n1"><circle cx="619.3" cy="1287.3" r="9.4"/></g><g id="b34-n2"><circle cx="648.7" cy="1287.3" r="9.4"/></g><g id="b34-n3"><circle cx="619.3" cy="1326" r="9.4"/></g><g id="b34-n4"><circle cx="648.7" cy="1326" r="9.4"/></g><g id="b34-n5"><circle cx="619.3" cy="1364.3" r="9.4"/></g><g id="b34-n6"><circle cx="648.7" cy="1364.3" r="9.4"/></g></g>

<g id="b35"><rect class="bx" x="869.3" y="1314" width="96.7" height="62.7"/>
<g class="ed" id="b35-edges"><line x1="881.7" y1="1326" x2="896" y2="1364.3"/><line x1="910" y1="1326" x2="896" y2="1364.3"/><line x1="910" y1="1326" x2="924.3" y2="1364.3"/><line x1="938.7" y1="1326" x2="896" y2="1364.3"/><line x1="938.7" y1="1326" x2="924.3" y2="1364.3"/><line x1="938.7" y1="1326" x2="952.7" y2="1364.3"/></g>
<g id="b35-n1"><circle cx="881.7" cy="1326" r="9.4"/></g><g id="b35-n2"><circle cx="910" cy="1326" r="9.4"/></g><g id="b35-n3"><circle cx="938.7" cy="1326" r="9.4"/></g><g id="b35-n4"><circle cx="896" cy="1364.3" r="9.4"/></g><g id="b35-n5"><circle cx="924.3" cy="1364.3" r="9.4"/></g><g id="b35-n6"><circle cx="952.7" cy="1364.3" r="9.4"/></g></g>

<g id="b36"><rect class="bx" x="216.7" y="1416.7" width="82.3" height="63.3"/>
<g class="ed" id="b36-edges"><line x1="228.3" y1="1429.3" x2="228.3" y2="1467.7"/><line x1="228.3" y1="1429.3" x2="257.3" y2="1467.7"/><line x1="257.3" y1="1429.3" x2="228.3" y2="1467.7"/><line x1="257.3" y1="1429.3" x2="257.3" y2="1467.7"/><line x1="257.3" y1="1429.3" x2="286.7" y2="1467.7"/><line x1="286.7" y1="1429.3" x2="286.7" y2="1467.7"/></g>
<g id="b36-n1"><circle cx="228.3" cy="1429.3" r="9.4"/></g><g id="b36-n2"><circle cx="257.3" cy="1429.3" r="9.4"/></g><g id="b36-n3"><circle cx="286.7" cy="1429.3" r="9.4"/></g><g id="b36-n4"><circle cx="228.3" cy="1467.7" r="9.4"/></g><g id="b36-n5"><circle cx="257.3" cy="1467.7" r="9.4"/></g><g id="b36-n6"><circle cx="286.7" cy="1467.7" r="9.4"/></g></g>

<g id="b37"><rect class="bx" x="519.3" y="1378.3" width="82.4" height="101.7"/>
<g class="ed" id="b37-edges"><line x1="537.7" y1="1391.3" x2="531" y2="1429.3"/><line x1="537.7" y1="1391.3" x2="560" y2="1429.3"/><line x1="574.3" y1="1391.3" x2="560" y2="1429.3"/><line x1="574.3" y1="1391.3" x2="588.7" y2="1429.3"/><line x1="531" y1="1429.3" x2="546" y2="1467.7"/><line x1="560" y1="1429.3" x2="546" y2="1467.7"/></g>
<g id="b37-n1"><circle cx="537.7" cy="1391.3" r="9.4"/></g><g id="b37-n2"><circle cx="574.3" cy="1391.3" r="9.4"/></g><g id="b37-n3"><circle cx="531" cy="1429.3" r="9.4"/></g><g id="b37-n4"><circle cx="560" cy="1429.3" r="9.4"/></g><g id="b37-n5"><circle cx="588.7" cy="1429.3" r="9.4"/></g><g id="b37-n6"><circle cx="546" cy="1467.7" r="9.4"/></g></g>

<g id="b38"><rect class="bx" x="821.7" y="1378.3" width="82" height="101.7"/>
<g class="ed" id="b38-edges"><line x1="862.7" y1="1391.3" x2="862.7" y2="1429.3"/><line x1="834.3" y1="1429.3" x2="834.3" y2="1467.7"/><line x1="834.3" y1="1429.3" x2="862.7" y2="1467.7"/><line x1="862.7" y1="1429.3" x2="834.3" y2="1467.7"/><line x1="862.7" y1="1429.3" x2="862.7" y2="1467.7"/><line x1="862.7" y1="1429.3" x2="891.7" y2="1467.7"/></g>
<g id="b38-n1"><circle cx="862.7" cy="1391.3" r="9.4"/></g><g id="b38-n2"><circle cx="834.3" cy="1429.3" r="9.4"/></g><g id="b38-n3"><circle cx="862.7" cy="1429.3" r="9.4"/></g><g id="b38-n4"><circle cx="834.3" cy="1467.7" r="9.4"/></g><g id="b38-n5"><circle cx="862.7" cy="1467.7" r="9.4"/></g><g id="b38-n6"><circle cx="891.7" cy="1467.7" r="9.4"/></g></g>
</svg>
